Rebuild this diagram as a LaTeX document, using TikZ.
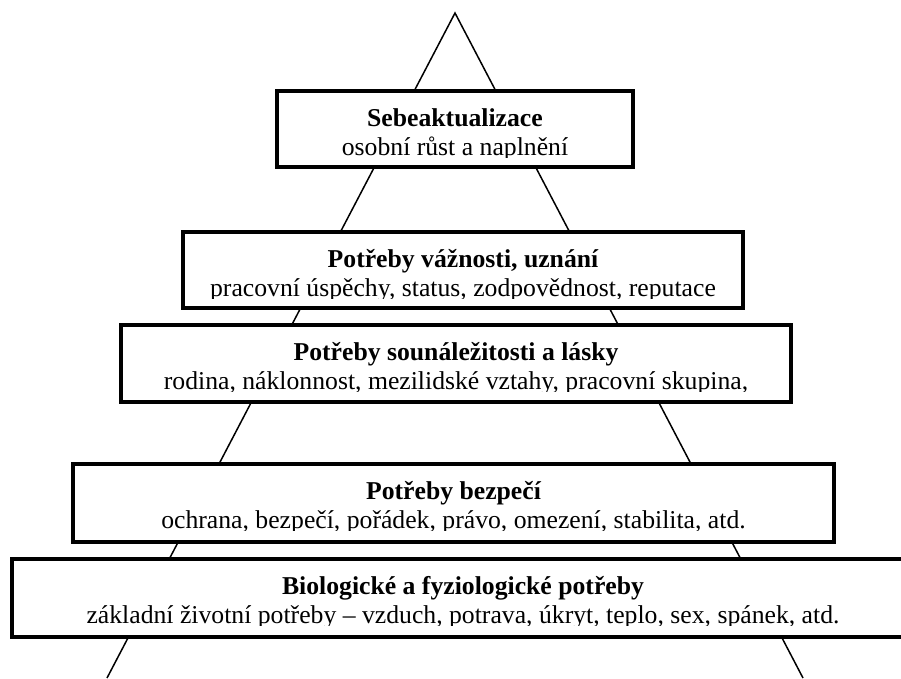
\documentclass[tikz,border=0pt]{standalone}
\usepackage{fontspec}
\setmainfont{Liberation Serif}
\tikzset{
  side/.style={line width=1.5pt, line join=miter},
  frame/.style={line width=3.5pt, line join=miter},
  lbl/.style={anchor=base, inner sep=0pt, font=\fontsize{25.7}{30}\selectfont},
  hlbl/.style={lbl, font=\fontsize{25.7}{30}\selectfont\bfseries},
}
\newcommand{\lvlbox}[7]{%
  % #1 name, #2 x1, #3 y1, #4 x2, #5 y2, #6 heading, #7 sub
  \fill[white] (#2,#3) rectangle (#4,#5);
  \begin{scope}
    \clip (#2,#3) rectangle (#4,#3+66);
    \node[hlbl] (#1h) at ({(#2+#4)/2},#3+35) {#6};
    \node[lbl] (#1s) at ({(#2+#4)/2},#3+64) {#7};
  \end{scope}
  \draw[frame] (#2,#3) rectangle (#4,#5);
}
\begin{document}
\begin{tikzpicture}[x=1pt,y=-1pt]
\useasboundingbox (0,0) rectangle (901,678);
\coordinate (apex) at (455,13);
\coordinate (bl) at (107,678);
\coordinate (br) at (803,678);
\draw[side] (bl) -- (apex) -- (br);
\lvlbox{l1}{277}{91}{633}{167}{Sebeaktualizace}{osobní růst a naplnění}
\lvlbox{l2}{183}{232}{743}{308}{Potřeby vážnosti, uznání}{pracovní úspěchy, status, zodpovědnost, reputace}
\lvlbox{l3}{121}{325}{791}{402}{Potřeby sounáležitosti a lásky}{rodina, náklonnost, mezilidské vztahy, pracovní skupina,}
\lvlbox{l4}{73}{464}{834}{542}{Potřeby bezpečí}{ochrana, bezpečí, pořádek, právo, omezení, stabilita, atd.}
\lvlbox{l5}{12}{559}{914}{637}{Biologické a fyziologické potřeby}{základní životní potřeby – vzduch, potrava, úkryt, teplo, sex, spánek, atd.}
\end{tikzpicture}
\end{document}
